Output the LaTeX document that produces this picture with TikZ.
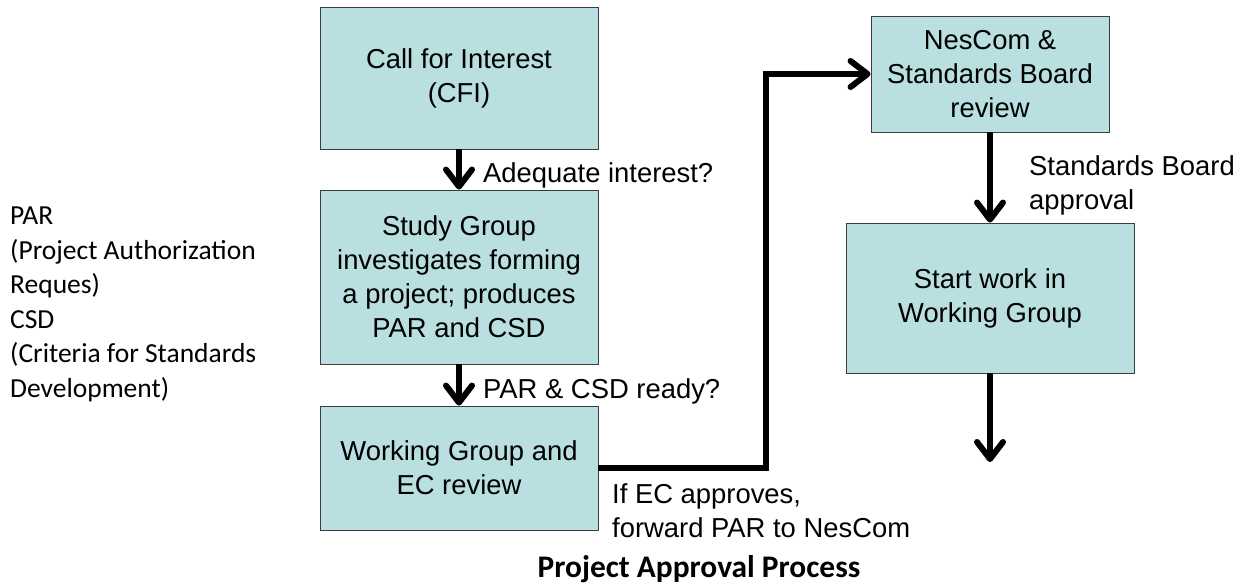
\documentclass[tikz,border=0pt]{standalone}
\usepackage{fontspec}
\setmainfont{Liberation Sans}
\newfontfamily\notefont{Carlito}
\usepackage{tikz}
\usetikzlibrary{positioning}
\usetikzlibrary{arrows.meta}
\definecolor{boxfill}{RGB}{185,223,225}
\definecolor{boxline}{RGB}{60,60,60}
\newcommand{\boxfont}{\fontsize{27.4}{34}\selectfont}
\newcommand{\sidefont}{\notefont\fontsize{27.5}{34.5}\selectfont}
\tikzset{
  stepbox/.style={draw=boxline, line width=0.9pt, fill=boxfill, align=center, font=\boxfont, inner sep=0pt},
  flow/.style={line width=6pt, -{Straight Barb[round,length=17pt,width=26pt]}},
  note/.style={font=\boxfont, inner sep=0pt, align=left}
}

\begin{document}
\begin{tikzpicture}[x=1pt,y=-1pt]
        \useasboundingbox (0,0) rectangle (1240,586);
        % Left column of steps
        \node [stepbox, minimum width=278pt, minimum height=142pt] (cfi) at (459,78) {Call for Interest\\(CFI)};
        \node [stepbox, minimum width=278pt, minimum height=174pt] (study) at (459,277) {Study Group\\investigates forming\\a project; produces\\PAR and CSD};
        \node [stepbox, minimum width=278pt, minimum height=124pt] (wgec) at (459,468) {Working Group and\\EC review};
        % Right column of steps
        \node [stepbox, minimum width=238pt, minimum height=116pt] (nescom) at (990,74) {NesCom \&\\Standards Board\\review};
        \node [stepbox, minimum width=288pt, minimum height=150pt] (startwg) at (990,298) {Start work in\\Working Group};
        \coordinate (bend) at (766,468);
        \coordinate (onward) at (990,462);
        % Arrows between the steps
        \draw [flow] (cfi) -- (study);
        \draw [flow] (study) -- (wgec);
        \draw [flow] (wgec.east) -- (bend) |- (nescom.west);
        \draw [flow] (nescom) -- (startwg);
        \draw [flow] (startwg) -- (onward);
        % Labels on the arrows
        \node [note, anchor=base west] (interest) at (483,182) {Adequate interest?};
        \node [note, anchor=base west] (ready) at (483,398) {PAR \& CSD ready?};
        \node [note, anchor=north west] (approves) at (612,483) {If EC approves,\\forward PAR to NesCom};
        \node [note, anchor=north west] (sbapproval) at (1029,155) {Standards Board\\approval};
        % Abbreviations and title
        \node [inner sep=0pt, align=left, font=\sidefont, anchor=north west] (abbrev) at (10,207) {PAR\\(Project Authorization\\Reques)\\CSD\\(Criteria for Standards\\Development)};
        \node [inner sep=0pt, font=\notefont\bfseries\fontsize{31.4}{36}\selectfont, anchor=base] (title) at (699,577) {Project Approval Process};
      \end{tikzpicture}
\end{document}
